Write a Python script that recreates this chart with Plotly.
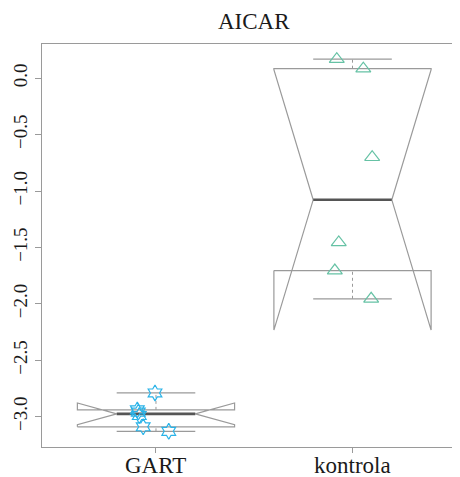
import numpy as np
import plotly.graph_objects as go

categories = ["GART", "kontrola"]
gart_values = [-2.79, -2.94, -2.96, -2.99, -3.09, -3.13]
kontrola_values = [0.17, 0.085, -0.70, -1.455, -1.705, -1.955]
# horizontal jitter of the points
gart_jitter = [-0.005, -0.095, -0.09, -0.085, -0.065, 0.065]
kontrola_jitter = [-0.08, 0.055, 0.10, -0.07, -0.09, 0.095]
y_ticks = [0.0, -0.5, -1.0, -1.5, -2.0, -2.5, -3.0]

BOX_COL = "#9a9a9a"
MED_COL = "#555555"
FONT = "Liberation Serif"
TXT = "#1a1a1a"


def fivenum(v):
    x = np.sort(np.asarray(v, dtype=float))
    n = len(x)
    n4 = np.floor((n + 3) / 2) / 2
    d = np.array([1, n4, (n + 1) / 2, n + 1 - n4, n]) - 1
    return 0.5 * (x[np.floor(d).astype(int)] + x[np.ceil(d).astype(int)])


fig = go.Figure()

series = [
    (gart_values, gart_jitter, "hexagram-open", "#2ab3e8", 12),
    (kontrola_values, kontrola_jitter, "triangle-up-open", "#66c2a5", 13),
]

wid = 0.4
nf = 0.5
for i, (vals, jit, sym, col, msz) in enumerate(series):
    x0 = i + 1
    s = fivenum(vals)
    n = len(vals)
    iqr = s[3] - s[1]
    conf = (s[2] - 1.58 * iqr / np.sqrt(n), s[2] + 1.58 * iqr / np.sqrt(n))
    xx = [x0 + wid * k for k in (-1, 1, 1, nf, 1, 1, -1, -1, -nf, -1, -1)]
    yy = [s[1], s[1], conf[0], s[2], conf[1], s[3], s[3], conf[1], s[2], conf[0], s[1]]
    fig.add_trace(go.Scatter(x=xx, y=yy, mode="lines",
                             line=dict(color=BOX_COL, width=1.2),
                             hoverinfo="skip", showlegend=False))
    fig.add_trace(go.Scatter(x=[x0 - wid * nf, x0 + wid * nf], y=[s[2], s[2]],
                             mode="lines", line=dict(color=MED_COL, width=2.6),
                             hoverinfo="skip", showlegend=False))
    for a, b in ((s[0], s[1]), (s[3], s[4])):
        fig.add_trace(go.Scatter(x=[x0, x0], y=[a, b], mode="lines",
                                 line=dict(color=BOX_COL, width=1, dash="3px,3px"),
                                 hoverinfo="skip", showlegend=False))
    for a in (s[0], s[4]):
        fig.add_trace(go.Scatter(x=[x0 - wid * 0.5, x0 + wid * 0.5], y=[a, a],
                                 mode="lines", line=dict(color=BOX_COL, width=1.2),
                                 hoverinfo="skip", showlegend=False))
    fig.add_trace(go.Scatter(x=[x0 + j for j in jit], y=vals, mode="markers",
                             marker=dict(symbol=sym, size=msz, color=col,
                                         line=dict(color=col, width=1.2)),
                             showlegend=False))

# page body has an 8px margin, so the figure is 8px smaller and offset
PLOT_W, PLOT_H = 418, 403
annotations = [dict(text="AICAR", x=(254 - 42) / PLOT_W, y=1 + (44 - 21) / PLOT_H,
                    xref="paper", yref="paper", xanchor="center", yanchor="middle",
                    showarrow=False, font=dict(family=FONT, size=23, color=TXT))]
for k, c in enumerate(categories):
    annotations.append(dict(text=c, x=k + 1, y=-(465 - 447) / PLOT_H, xref="x", yref="paper",
                            xanchor="center", yanchor="middle", showarrow=False,
                            font=dict(family=FONT, size=23, color=TXT)))

fig.update_layout(
    width=452, height=469,
    margin=dict(l=34, r=0, t=36, b=30, autoexpand=False),
    paper_bgcolor="white", plot_bgcolor="white",
    font=dict(family=FONT, color=TXT),
    annotations=annotations,
)
fig.update_xaxes(range=[0.42, 2.547], tickvals=[1, 2], showticklabels=False,
                 automargin=False,
                 showgrid=False, zeroline=False, showline=True, mirror=True,
                 linecolor="#9a9a9a", linewidth=1.2, ticks="outside", ticklen=5,
                 tickcolor="#9a9a9a")
fig.update_yaxes(range=[-3.269, 0.304], tickvals=y_ticks,
                 ticktext=[f"{v:.1f}".replace("-", "\u2212") for v in y_ticks],
                 tickangle=-90, showgrid=False, zeroline=False, showline=True,
                 automargin=False,
                 mirror=False, linecolor="#9a9a9a", linewidth=1.2, ticks="outside",
                 ticklen=6, tickcolor="#9a9a9a",
                 tickfont=dict(family=FONT, size=19, color=TXT))

fig.write_html("out.html")
